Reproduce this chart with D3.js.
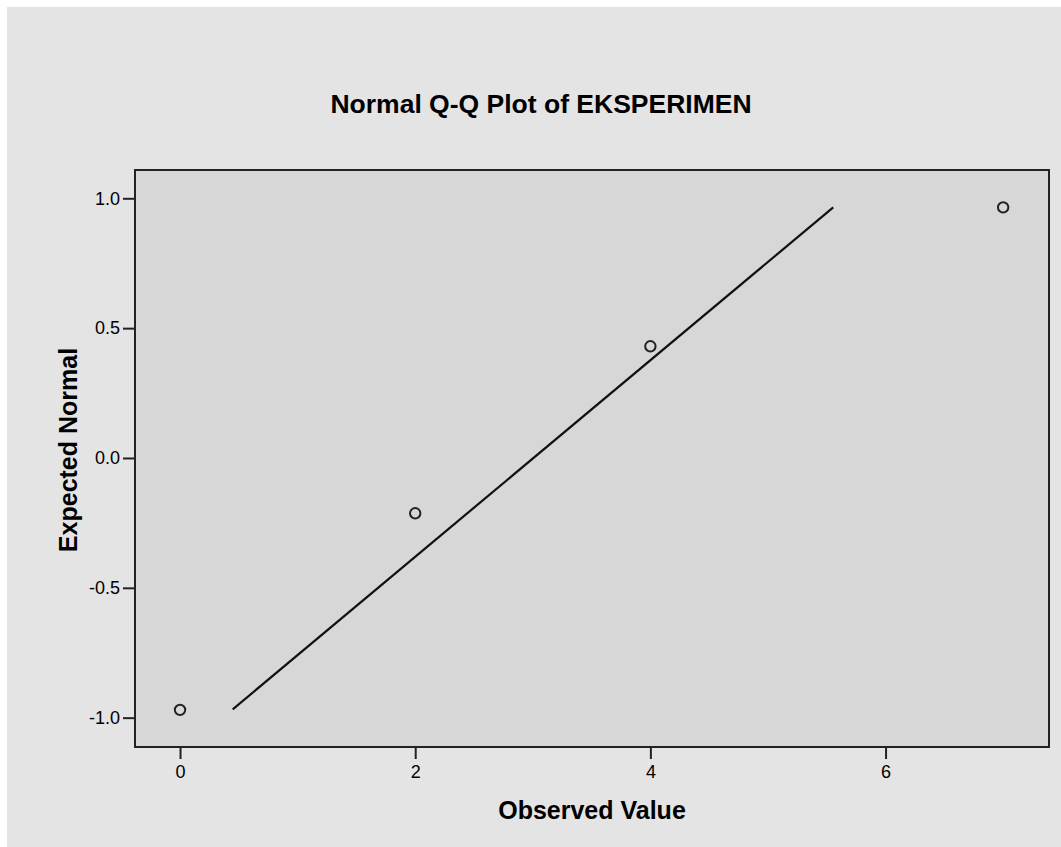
<!DOCTYPE html>
<html>
<head>
<meta charset="utf-8">
<script src="https://cdn.jsdelivr.net/npm/d3@7"></script>
<style>
  html, body { margin: 0; padding: 0; background: #ffffff; }
  svg { display: block; }
  text { font-family: "Liberation Sans", Arial, sans-serif; fill: #000; }
</style>
</head>
<body>
<svg id="chart" width="1061" height="847"></svg>
<script>
// ---- data ----
const observed = [0, 2, 4, 7];
const expected = [-0.97, -0.213, 0.43, 0.965];
const lineX = [0.448, 5.555];
const lineY = [-0.968, 0.965];
const xTicks = [0, 2, 4, 6];
const yTicks = [-1.0, -0.5, 0.0, 0.5, 1.0];
const titleText = "Normal Q-Q Plot of EKSPERIMEN";
const xLabel = "Observed Value";
const yLabel = "Expected Normal";

// ---- layout ----
const W = 1061, H = 847;
const plot = { left: 135, top: 170, right: 1049, bottom: 747 };

const svg = d3.select("#chart");

svg.append("rect").attr("x", 7).attr("y", 7).attr("width", W - 7).attr("height", H - 7)
  .attr("fill", "#e4e4e4");

const x = d3.scaleLinear().domain([-0.383, 7.39]).range([plot.left, plot.right]);
const y = d3.scaleLinear().domain([-1.113, 1.109]).range([plot.bottom, plot.top]);

svg.append("rect")
  .attr("x", plot.left).attr("y", plot.top)
  .attr("width", plot.right - plot.left).attr("height", plot.bottom - plot.top)
  .attr("fill", "#d7d7d7");

// axes
const xAxis = d3.axisBottom(x).tickValues(xTicks).tickSize(12).tickPadding(6)
  .tickFormat(d => String(d));
const gx = svg.append("g").attr("transform", `translate(0,${plot.bottom})`).call(xAxis);
gx.select(".domain").remove();
gx.selectAll(".tick line").attr("stroke", "#222").attr("stroke-width", 2);
gx.selectAll(".tick text").attr("font-size", 18).attr("fill", "#111")
  .style("font-family", '"Liberation Sans", Arial, sans-serif');

const yAxis = d3.axisLeft(y).tickValues(yTicks).tickSize(12).tickPadding(3)
  .tickFormat(d => d.toFixed(1));
const gy = svg.append("g").attr("transform", `translate(${plot.left},0)`).call(yAxis);
gy.select(".domain").remove();
gy.selectAll(".tick line").attr("stroke", "#222").attr("stroke-width", 2);
gy.selectAll(".tick text").attr("font-size", 18).attr("fill", "#111")
  .style("font-family", '"Liberation Sans", Arial, sans-serif');

// reference line
svg.append("line")
  .attr("x1", x(lineX[0])).attr("y1", y(lineY[0]))
  .attr("x2", x(lineX[1])).attr("y2", y(lineY[1]))
  .attr("stroke", "#111").attr("stroke-width", 2.2);

// points
svg.append("g").selectAll("circle")
  .data(observed.map((o, i) => [o, expected[i]]))
  .join("circle")
  .attr("cx", d => x(d[0])).attr("cy", d => y(d[1]))
  .attr("r", 5.2)
  .attr("fill", "none").attr("stroke", "#222").attr("stroke-width", 2);

// frame
svg.append("rect")
  .attr("x", plot.left).attr("y", plot.top)
  .attr("width", plot.right - plot.left).attr("height", plot.bottom - plot.top)
  .attr("fill", "none").attr("stroke", "#222").attr("stroke-width", 2);

// title
svg.append("text").attr("x", 541).attr("y", 113)
  .attr("text-anchor", "middle").attr("font-size", 26.5).attr("font-weight", "bold")
  .text(titleText);

// axis labels
svg.append("text").attr("x", (plot.left + plot.right) / 2).attr("y", 819)
  .attr("text-anchor", "middle").attr("font-size", 25).attr("font-weight", "bold")
  .text(xLabel);

svg.append("text")
  .attr("transform", "translate(77,450) rotate(-90)")
  .attr("text-anchor", "middle").attr("font-size", 25).attr("font-weight", "bold")
  .text(yLabel);
</script>
</body>
</html>
